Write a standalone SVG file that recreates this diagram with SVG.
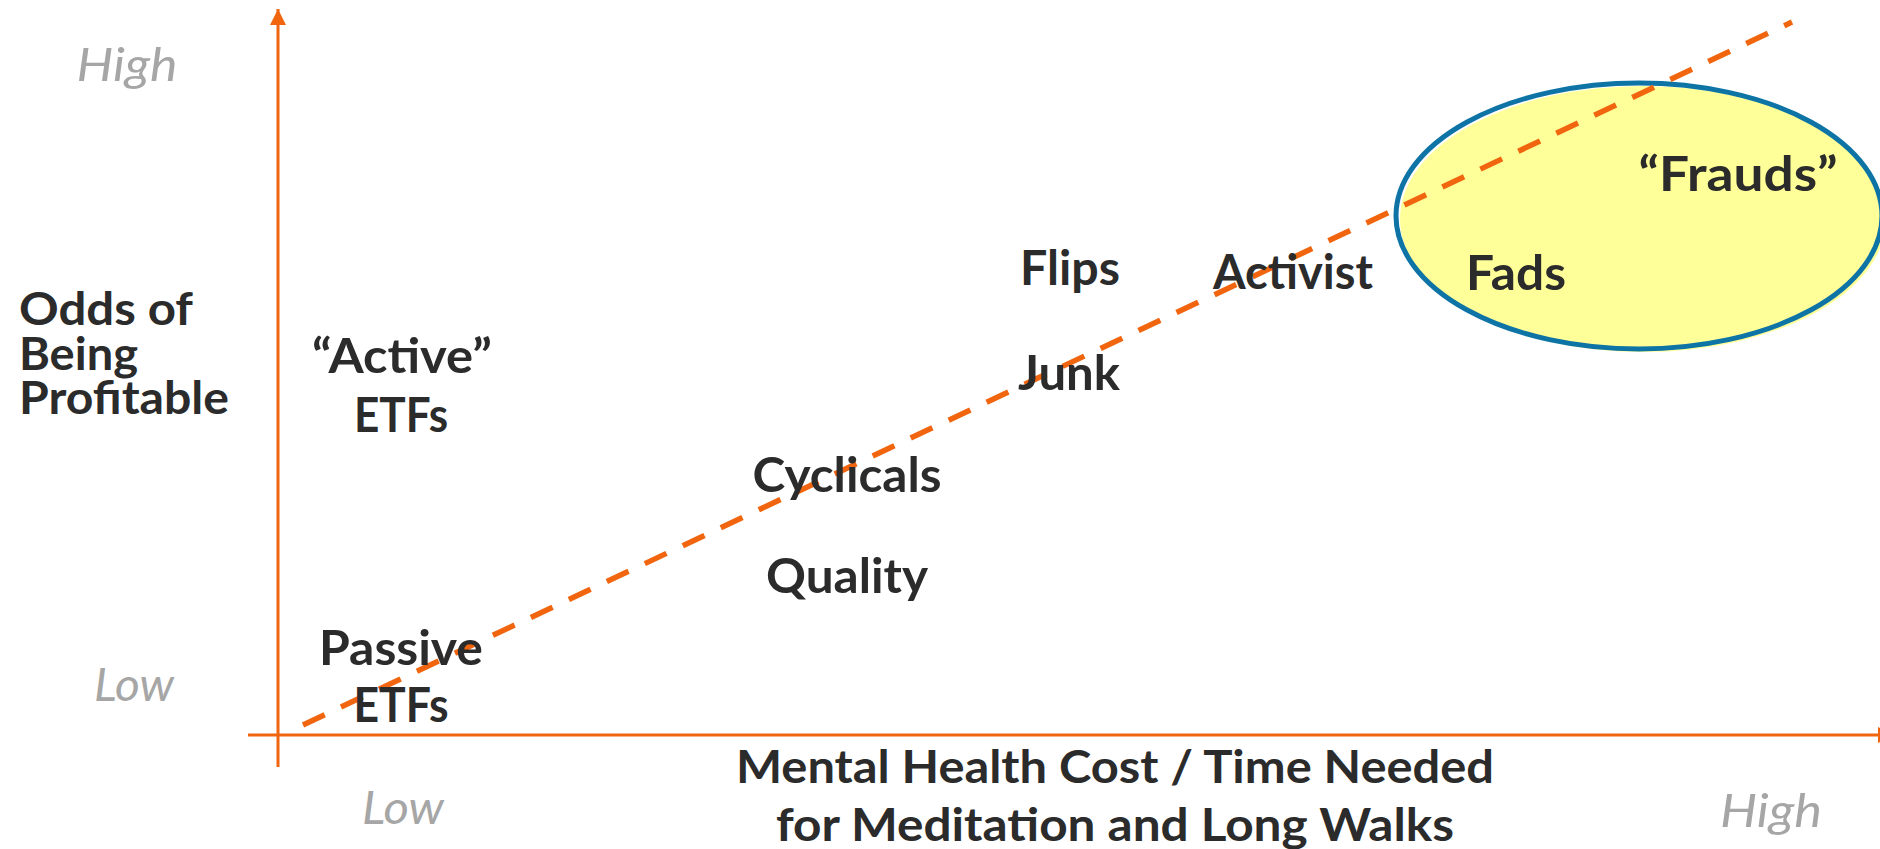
<svg xmlns="http://www.w3.org/2000/svg" width="1880" height="849" viewBox="0 0 1880 849">
  <defs>
    <style>
      .lbl { font-family: Lato, "Liberation Sans", sans-serif; font-weight: 700; fill: #2b2b2b; }
      .big { font-size: 47px; }
      .ttl { font-size: 45px; }
      .scale { font-family: Lato, "Liberation Sans", sans-serif; font-style: italic; font-weight: 400; font-size: 47px; fill: #a6a6a6; }
      .axis { stroke: #f0650e; stroke-width: 3; fill: none; }
      .trend { stroke: #f0650e; stroke-width: 5.5; fill: none; stroke-dasharray: 24 18; }
    </style>
    <marker id="arrow" markerWidth="16" markerHeight="16" refX="16" refY="8" orient="auto" markerUnits="userSpaceOnUse">
      <path d="M0,0 L16,8 L0,16 Z" fill="#f0650e"/>
    </marker>
  </defs>

  <rect width="1880" height="849" fill="#ffffff"/>

  <!-- highlighted zone at the high-cost end -->
  <g id="zone-frauds">
    <ellipse cx="1643" cy="219" rx="243" ry="133" fill="#ffff99"/>
    <ellipse cx="1639" cy="216" rx="243" ry="133" fill="none" stroke="#0e74a6" stroke-width="5"/>
  </g>

  <!-- axes and trend line -->
  <g id="connectors">
    <line id="y-axis" class="axis" x1="278" y1="767" x2="278" y2="9" marker-end="url(#arrow)"/>
    <line id="x-axis" class="axis" x1="248" y1="735" x2="1894" y2="735" marker-end="url(#arrow)"/>
    <line id="trend-line" class="trend" x1="303" y1="725" x2="1792" y2="22"/>
  </g>

  <!-- scale labels -->
  <g id="y-high"><text class="scale" x="127" y="81" text-anchor="middle" textLength="101" lengthAdjust="spacingAndGlyphs">High</text></g>
  <g id="y-low"><text class="scale" x="134" y="701" text-anchor="middle" textLength="80" lengthAdjust="spacingAndGlyphs">Low</text></g>
  <g id="x-low"><text class="scale" x="403" y="824" text-anchor="middle" textLength="82" lengthAdjust="spacingAndGlyphs">Low</text></g>
  <g id="x-high"><text class="scale" x="1771" y="827" text-anchor="middle" textLength="102" lengthAdjust="spacingAndGlyphs">High</text></g>

  <!-- axis titles -->
  <g id="y-title">
    <text class="lbl ttl" x="19" y="325" textLength="174" lengthAdjust="spacingAndGlyphs">Odds of</text>
    <text class="lbl ttl" x="19" y="370" textLength="119" lengthAdjust="spacingAndGlyphs">Being</text>
    <text class="lbl ttl" x="19" y="414" textLength="210" lengthAdjust="spacingAndGlyphs">Profitable</text>
  </g>
  <g id="x-title">
    <text class="lbl ttl" x="1115" y="783" text-anchor="middle" textLength="758" lengthAdjust="spacingAndGlyphs">Mental Health Cost / Time Needed</text>
    <text class="lbl ttl" x="1115" y="841" text-anchor="middle" textLength="678" lengthAdjust="spacingAndGlyphs">for Meditation and Long Walks</text>
  </g>

  <!-- categories -->
  <g id="active-etfs">
    <text class="lbl big" x="402" y="373" text-anchor="middle" textLength="180" lengthAdjust="spacingAndGlyphs">“Active”</text>
    <text class="lbl big" x="401" y="432" text-anchor="middle" textLength="94" lengthAdjust="spacingAndGlyphs">ETFs</text>
  </g>
  <g id="passive-etfs">
    <text class="lbl big" x="401" y="665" text-anchor="middle" textLength="164" lengthAdjust="spacingAndGlyphs">Passive</text>
    <text class="lbl big" x="401" y="722" text-anchor="middle" textLength="95" lengthAdjust="spacingAndGlyphs">ETFs</text>
  </g>
  <g id="cyclicals"><text class="lbl big" x="847" y="492" text-anchor="middle" textLength="189" lengthAdjust="spacingAndGlyphs">Cyclicals</text></g>
  <g id="quality"><text class="lbl big" x="847" y="593" text-anchor="middle" textLength="162" lengthAdjust="spacingAndGlyphs">Quality</text></g>
  <g id="flips"><text class="lbl big" x="1070" y="285" text-anchor="middle" textLength="100" lengthAdjust="spacingAndGlyphs">Flips</text></g>
  <g id="junk"><text class="lbl big" x="1069" y="390" text-anchor="middle" textLength="102" lengthAdjust="spacingAndGlyphs">Junk</text></g>
  <g id="activist"><text class="lbl big" x="1293" y="289" text-anchor="middle" textLength="160" lengthAdjust="spacingAndGlyphs">Activist</text></g>
  <g id="fads"><text class="lbl big" x="1516" y="290" text-anchor="middle" textLength="100" lengthAdjust="spacingAndGlyphs">Fads</text></g>
  <g id="frauds"><text class="lbl big" x="1738" y="191" text-anchor="middle" textLength="199" lengthAdjust="spacingAndGlyphs">“Frauds”</text></g>
</svg>
